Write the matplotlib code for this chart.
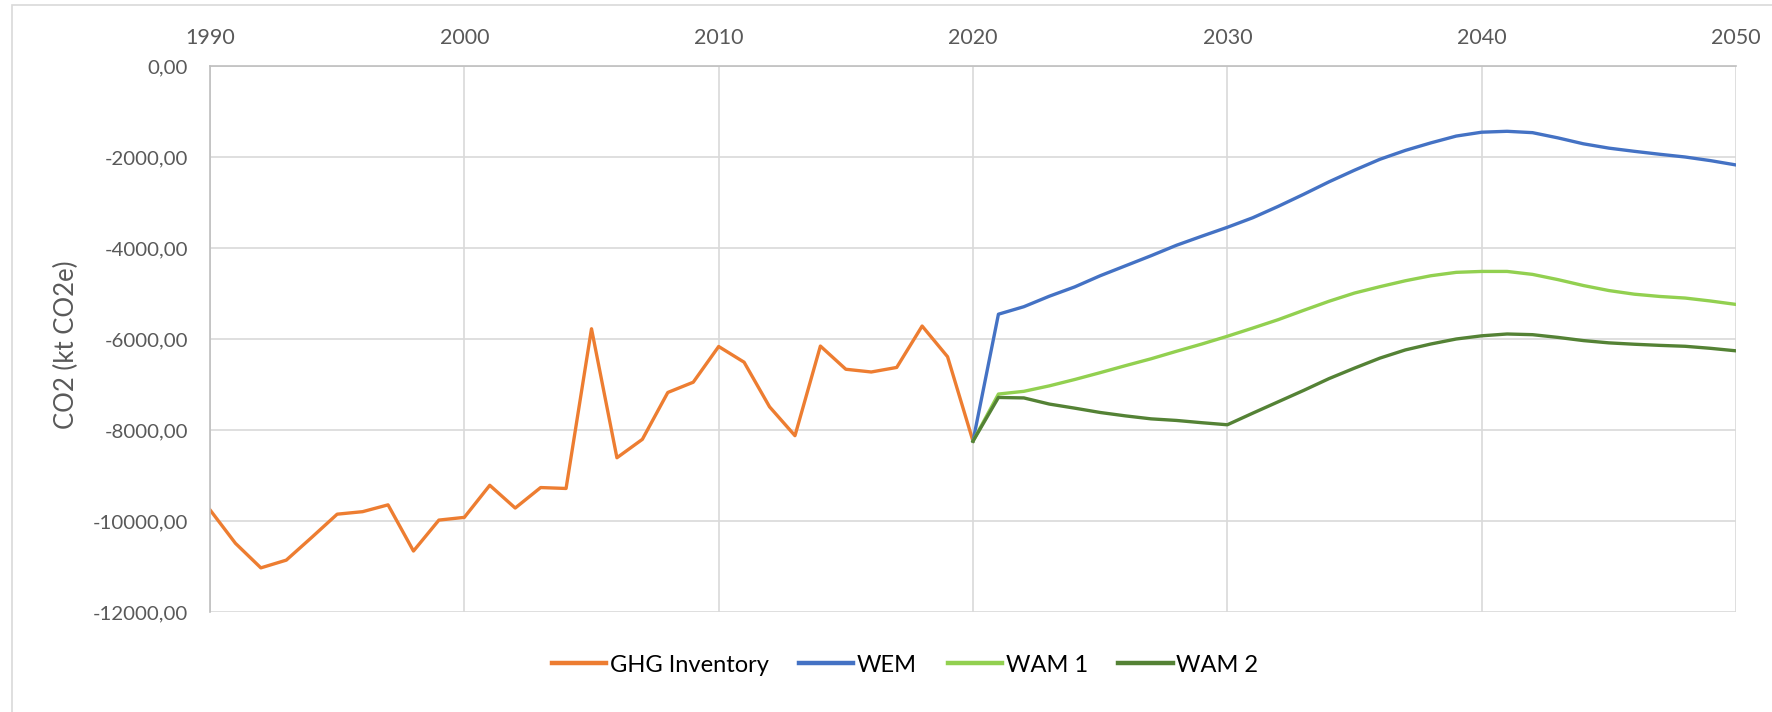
import matplotlib
matplotlib.use("Agg")
import matplotlib.pyplot as plt
from matplotlib.patches import Rectangle

# GHG inventory 1990-2020
inv_years = list(range(1990, 2021))
inv_vals = [-9755, -10490, -11030, -10860, -10360, -9850, -9795, -9645, -10660, -9980,
            -9920, -9215, -9715, -9265, -9285, -5775, -8610, -8205, -7175, -6950,
            -6165, -6510, -7490, -8125, -6155, -6665, -6725, -6625, -5715, -6390,
            -8245]

# projections 2020-2050
proj_years = list(range(2020, 2051))
wem = [-8245, -5455, -5290, -5060, -4855, -4610, -4390, -4170, -3940, -3740,
       -3545, -3335, -3085, -2820, -2545, -2290, -2050, -1855, -1690, -1540,
       -1455, -1435, -1465, -1580, -1710, -1805, -1875, -1940, -2000, -2080,
       -2175]
wam1 = [-8245, -7210, -7150, -7030, -6890, -6740, -6585, -6435, -6270, -6110,
        -5940, -5760, -5575, -5370, -5170, -4990, -4850, -4720, -4610, -4535,
        -4515, -4515, -4580, -4695, -4825, -4935, -5015, -5065, -5100, -5165,
        -5240]
wam2 = [-8245, -7285, -7295, -7430, -7520, -7615, -7690, -7755, -7790, -7840,
        -7885, -7630, -7380, -7130, -6870, -6640, -6420, -6240, -6110, -6000,
        -5930, -5890, -5905, -5965, -6035, -6085, -6115, -6140, -6160, -6205,
        -6260]

plt.rcParams['font.family'] = ['Lato', 'DejaVu Sans']

fig = plt.figure(figsize=(17.72, 7.12), dpi=100)
ax = fig.add_axes([210/1772, 1-612/712, (1736-210)/1772, (612-66)/712])

# outer chart frame
fig.patches.append(Rectangle((12/1772, -0.1), 1.2, 1-5/712+0.1, transform=fig.transFigure,
                             fill=False, edgecolor='#d9d9d9', linewidth=1.2))

lw = 2.4
ax.plot(inv_years, inv_vals, color='#ED7D31', lw=lw, label='GHG Inventory', solid_joinstyle='round')
ax.plot(proj_years, wem, color='#4472C4', lw=lw, label='WEM', solid_joinstyle='round')
ax.plot(proj_years, wam1, color='#92D050', lw=lw, label='WAM 1', solid_joinstyle='round')
ax.plot(proj_years, wam2, color='#548235', lw=lw, label='WAM 2', solid_joinstyle='round')

ax.set_xlim(1990, 2050)
ax.set_ylim(-12000, 0)
ax.set_xticks(range(1990, 2051, 10))
ax.set_yticks(range(-12000, 1, 2000))
ax.set_yticklabels([f"{v},00" for v in range(-12000, 1, 2000)])
ax.xaxis.tick_top()
ax.tick_params(axis='both', length=0, labelcolor='#595959')
ax.tick_params(axis='x', pad=13, labelsize=15.5)
ax.tick_params(axis='y', pad=16, labelsize=14.7)

ax.grid(True, color='#d9d9d9', lw=1.2)
ax.set_axisbelow(True)
for side in ['bottom', 'right']:
    ax.spines[side].set_visible(False)
for side in ['top', 'left']:
    ax.spines[side].set_color('#bfbfbf')
    ax.spines[side].set_linewidth(1.2)

ax.set_ylabel('CO2 (kt CO2e)', fontsize=18.5, color='#595959')
ax.yaxis.set_label_coords((79-210)/1526, 0.49)

ax.legend(loc='center', bbox_to_anchor=(905/1772, 1-665/712), bbox_transform=fig.transFigure,
          ncol=4, frameon=False, fontsize=17, handlelength=2.3, handletextpad=0.15,
          columnspacing=1.3)
for line in ax.get_legend().get_lines():
    line.set_linewidth(3.2)

fig.savefig('out.png', dpi=100)
